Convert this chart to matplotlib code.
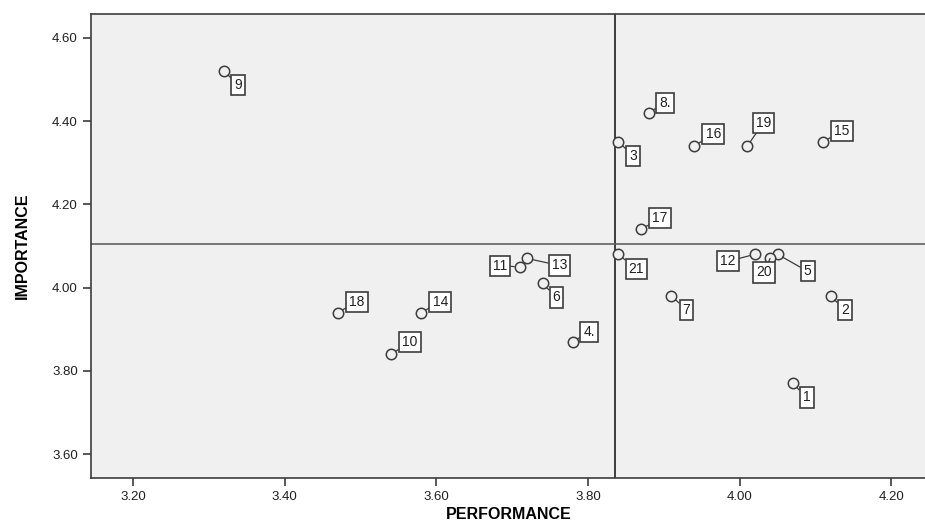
import matplotlib.pyplot as plt
import numpy as np

# item numbers and mean scores
items = ["1", "2", "3", "4.", "5", "6", "7", "8.", "9", "10", "11",
         "12", "13", "14", "15", "16", "17", "18", "19", "20", "21"]
performance = [4.07, 4.12, 3.84, 3.78, 4.05, 3.74, 3.91, 3.88, 3.32, 3.54, 3.71,
               4.02, 3.72, 3.58, 4.11, 3.94, 3.87, 3.47, 4.01, 4.04, 3.84]
importance = [3.77, 3.98, 4.35, 3.87, 4.08, 4.01, 3.98, 4.42, 4.52, 3.84, 4.05,
              4.08, 4.07, 3.94, 4.35, 4.34, 4.14, 3.94, 4.34, 4.07, 4.08]
perf_mean = 3.836
imp_mean = 4.105

x_ticks = [3.2, 3.4, 3.6, 3.8, 4.0, 4.2]
y_ticks = [3.6, 3.8, 4.0, 4.2, 4.4, 4.6]

# label box offsets in pixels (dx right, dy up)
label_off = {
    "1": (14, -14), "2": (14, -14), "3": (15, -14), "4.": (16, 10),
    "5": (30, -17), "6": (14, -14), "7": (15, -14), "8.": (16, 10),
    "9": (14, -14), "10": (19, 12), "11": (-20, 1), "12": (-27, -7),
    "13": (32, -7), "14": (19, 11), "15": (19, 11), "16": (19, 12),
    "17": (19, 11), "18": (19, 11), "19": (16, 23), "20": (-6, -14),
    "21": (18, -15),
}

EDGE = "#3c3c3c"
plt.rcParams['font.family'] = ['Liberation Sans', 'DejaVu Sans']

fig = plt.figure(figsize=(9.25, 5.24), dpi=100)
ax = fig.add_axes([91 / 925, 46 / 524, 836 / 925, 464 / 524])
ax.set_facecolor("#f0f0f0")

ax.axvline(perf_mean, color="#202020", lw=1.2, zorder=1)
ax.axhline(imp_mean, color="#606060", lw=1.2, zorder=1)

ax.plot(performance, importance, linestyle="none", marker="o", markersize=7.5,
        markerfacecolor="#f0f0f0", markeredgecolor=EDGE, markeredgewidth=1.1,
        zorder=3)

for name, px, py in zip(items, performance, importance):
    dx, dy = label_off[name]
    ax.annotate(name, xy=(px, py), xytext=(dx, dy), textcoords="offset pixels",
                ha="center", va="center", fontsize=10, color="#202020",
                bbox=dict(boxstyle="square,pad=0.22", fc="white", ec=EDGE, lw=1.2),
                arrowprops=dict(arrowstyle="-", color=EDGE, lw=0.9,
                                shrinkA=0, shrinkB=4),
                zorder=4)

ax.set_xlim(3.1445, 4.247)
ax.set_ylim(3.543, 4.657)
ax.set_xticks(x_ticks)
ax.set_yticks(y_ticks)
ax.set_xticklabels(["%.2f" % v for v in x_ticks])
ax.set_yticklabels(["%.2f" % v for v in y_ticks])
ax.tick_params(axis="both", direction="out", length=6, width=1.2,
               color=EDGE, labelsize=9.5, labelcolor="#202020")

for side in ["top", "bottom", "left", "right"]:
    ax.spines[side].set_color(EDGE)
    ax.spines[side].set_linewidth(1.2)

ax.set_xlabel("PERFORMANCE", fontsize=11.5, fontweight="bold", labelpad=3)
ax.set_ylabel("IMPORTANCE", fontsize=11.5, fontweight="bold", labelpad=16)

fig.savefig("out.png", dpi=100)
